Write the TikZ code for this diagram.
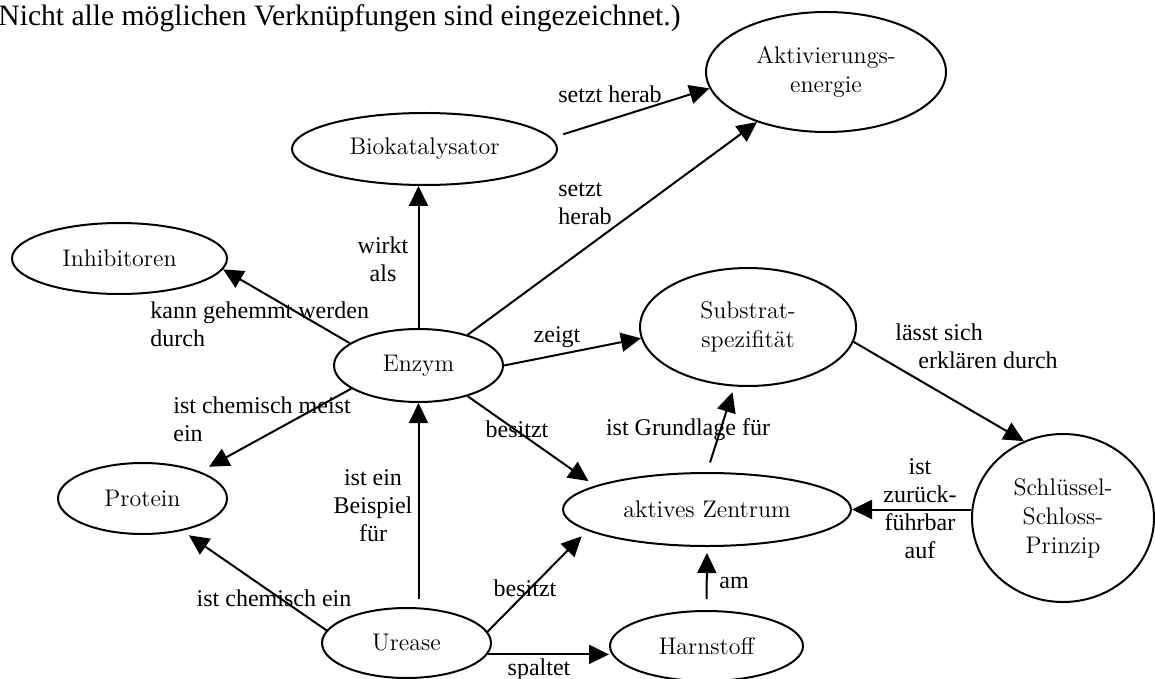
\documentclass[tikz,border=0pt]{standalone}
\usepackage{fontspec}
\newfontfamily\labelfont{Liberation Serif}
\usetikzlibrary{arrows.meta,shapes.geometric}

\begin{document}
\begin{tikzpicture}[x=.5pt,y=-.5pt,
    concept/.style={ellipse,draw,line width=1pt,inner sep=0pt,align=center,
      font=\fontsize{12}{14.5}\selectfont},
    lbl/.style={inner sep=0pt,font=\labelfont\fontsize{12}{14}\selectfont},
    link/.style={-{Triangle[length=10pt,width=9.5pt]},line width=1pt}]
    \useasboundingbox (0,0) rectangle (1155,679);
    \node[lbl,anchor=base west,font=\labelfont\fontsize{14.8}{17}\selectfont]
      (hinweis) at (-2,26) {Nicht alle möglichen Verknüpfungen sind eingezeichnet.)};

    % Begriffe
    \node[concept,minimum width=120pt,minimum height=60pt] (aktiv) at (826,72) {Aktivierungs-\\energie};
    \node[concept,minimum width=132.5pt,minimum height=36pt] (bio) at (424.5,149) {Biokatalysator};
    \node[concept,minimum width=107.5pt,minimum height=35.5pt] (inhib) at (119.5,258.5) {Inhibitoren};
    \node[concept,minimum width=84.5pt,minimum height=36.5pt] (enzym) at (418.5,365.5) {Enzym};
    \node[concept,minimum width=108pt,minimum height=59pt] (subst) at (748,327) {Substrat-\\spezifität};
    \node[concept,minimum width=144pt,minimum height=36.5pt] (zentrum) at (707,509.5) {aktives Zentrum};
    \node[concept,minimum width=91pt,minimum height=84pt] (schloss) at (1063,518) {Schlüssel-\\Schloss-\\Prinzip};
    \node[concept,minimum width=84.5pt,minimum height=35.5pt] (protein) at (142.5,498.5) {Protein};
    \node[concept,minimum width=84.5pt,minimum height=35pt] (urease) at (406.5,643) {Urease};
    \node[concept,minimum width=96.5pt,minimum height=35pt] (harn) at (706.5,646) {Harnstoff};

    % Verbindungen
    \draw[link,shorten <=6pt] (bio.5) -- (aktiv.188);
    \draw[link] (enzym.32.3) -- (aktiv.216.6);
    \draw[link] (enzym.north) -- (enzym.north |- bio.south);
    \draw[link] (enzym.162.5) -- (inhib.-6);
    \draw[link,shorten >=5pt] (enzym.199.6) -- (protein.25);
    \draw[link] (enzym.east) -- (subst.186.5);
    \draw[link,shorten >=4pt] (enzym.-32.3) -- (zentrum.168);
    \draw[link,shorten <=5pt,shorten >=3pt] (zentrum.north) -- (subst.257);
    \draw[link] (subst.-8) -- (schloss.117);
    \draw[link] (zentrum.east -| schloss.west) -- (zentrum.east);
    \draw[link,shorten <=4pt] (enzym.south |- urease.north) -- (enzym.south);
    \draw[link,shorten >=4pt] (urease.171.7) -- (protein.-39);
    \draw[link,shorten >=4pt] (urease.8) -- (zentrum.190);
    \draw[link] (urease.-8) -- (urease.-8 -| harn.west);
    \draw[link,shorten <=5.5pt,shorten >=3pt] (harn.north) -- (zentrum.south);

    % Beschriftungen
    \node[lbl] (lsetzt) at (610,94) {setzt herab};
    \node[lbl,anchor=west,align=left] (lsetzt2) at (558,204) {setzt\\herab};
    \node[lbl,align=center] (lwirkt) at (383,259) {wirkt\\als};
    \node[lbl,anchor=west,align=left] (lkann) at (150,324) {kann gehemmt werden\\durch};
    \node[lbl,anchor=west,align=left] (lmeist) at (173,419) {ist chemisch meist\\ein};
    \node[lbl] (lzeigt) at (557,337) {zeigt};
    \node[lbl] (lbesitzt) at (517,429) {besitzt};
    \node[lbl] (lgrund) at (688,430) {ist Grundlage für};
    \node[lbl,anchor=west,align=left] (lerkl) at (895,346) {lässt sich\\\hspace*{11.5pt}erklären durch};
    \node[lbl,align=center] (lzurueck) at (920,509) {ist\\zurück-\\führbar\\auf};
    \node[lbl,align=center] (lbeisp) at (373,506) {ist ein\\Beispiel\\für};
    \node[lbl] (lchem) at (274,598) {ist chemisch ein};
    \node[lbl] (lbesitzt2) at (525,588) {besitzt};
    \node[lbl] (lspaltet) at (539,670) {spaltet};
    \node[lbl,anchor=west] (lam) at (719,583) {am};
\end{tikzpicture}
\end{document}
